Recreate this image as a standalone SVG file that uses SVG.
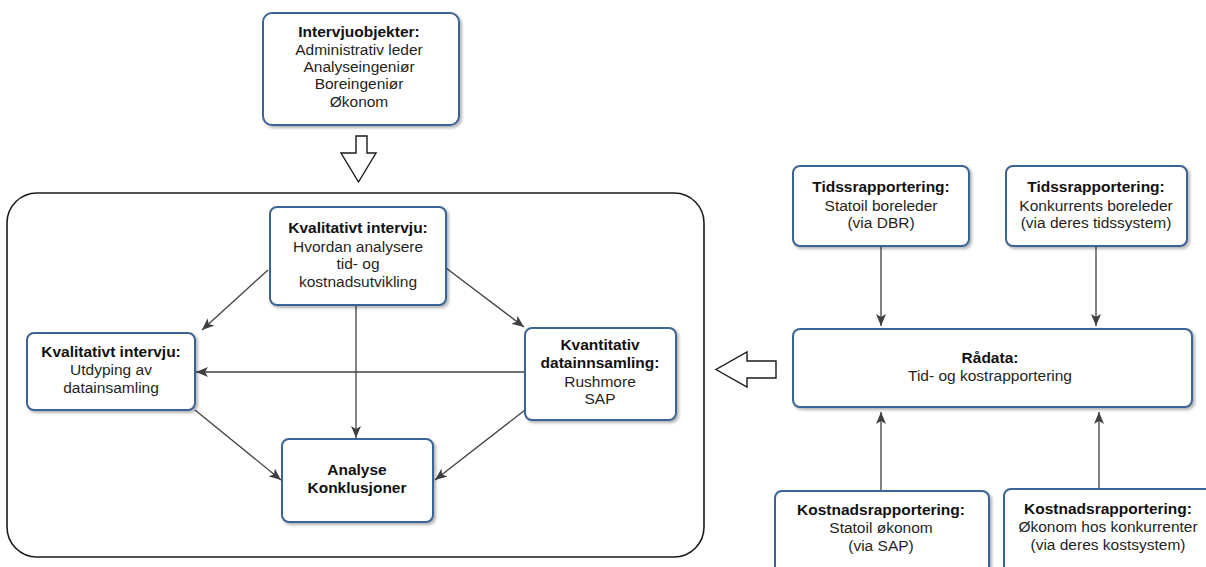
<svg xmlns="http://www.w3.org/2000/svg" width="1206" height="567" viewBox="0 0 1206 567">
  <style>
    .box { fill: #ffffff; stroke: #3b6494; stroke-width: 2; filter: url(#shadow); }
    .frame { fill: #ffffff; stroke: #1a1a1a; stroke-width: 1.6; }
    .hollow { fill: #ffffff; stroke: #1a1a1a; stroke-width: 1.4; stroke-linejoin: miter; }
    .edge { fill: none; stroke: #404040; stroke-width: 1.3; marker-end: url(#arrow); }
    text { font-family: "Liberation Sans", Arial, sans-serif; font-size: 15.5px; fill: #1f1f1f; text-anchor: middle; }
    .b { font-weight: bold; fill: #111111; }
  </style>
  <defs>
    <filter id="shadow" x="-10%" y="-10%" width="125%" height="130%">
      <feDropShadow dx="2" dy="2" stdDeviation="1.5" flood-color="#000000" flood-opacity="0.3"/>
    </filter>
    <marker id="arrow" viewBox="0 0 12 10" refX="12" refY="5" markerWidth="12" markerHeight="10" markerUnits="userSpaceOnUse" orient="auto">
      <path d="M0,0 L12,5 L0,10 L3,5 z" fill="#404040"/>
    </marker>
  </defs>

  <!-- outer frame of the analysis process -->
  <rect class="frame" x="7" y="193" width="697" height="364" rx="30" ry="30"/>

  <!-- hollow block arrows -->
  <path class="hollow" d="M356,136 L367,136 L367,153 L376,153 L358.5,182 L341,153 L356,153 Z"/>
  <path class="hollow" d="M776,361 L747,361 L747,352 L716,369.5 L747,387 L747,378 L776,378 Z"/>

  <g id="connectors">
    <line class="edge" x1="268" y1="270" x2="202" y2="330"/>
    <line class="edge" x1="446" y1="268" x2="524" y2="327"/>
    <line class="edge" x1="356" y1="306" x2="356" y2="438"/>
    <line class="edge" x1="525" y1="372" x2="196" y2="372"/>
    <line class="edge" x1="195" y1="410" x2="281" y2="480"/>
    <line class="edge" x1="525" y1="410" x2="435" y2="480"/>
    <line class="edge" x1="881" y1="246" x2="881" y2="326"/>
    <line class="edge" x1="1096" y1="246" x2="1096" y2="326"/>
    <line class="edge" x1="881" y1="490" x2="881" y2="412"/>
    <line class="edge" x1="1099" y1="488" x2="1099" y2="412"/>
  </g>

  <g id="intervjuobjekter">
    <rect class="box" x="263" y="13" width="196" height="112" rx="9"/>
    <text x="359" y="37" class="b">Intervjuobjekter:</text>
    <text x="359" y="55">Administrativ leder</text>
    <text x="359" y="72">Analyseingeniør</text>
    <text x="359" y="89">Boreingeniør</text>
    <text x="359" y="107">Økonom</text>
  </g>

  <g id="kvalitativt-hvordan">
    <rect class="box" x="270" y="207" width="176" height="98" rx="7"/>
    <text x="358" y="233" class="b">Kvalitativt intervju:</text>
    <text x="358" y="252">Hvordan analysere</text>
    <text x="358" y="269">tid- og</text>
    <text x="358" y="287">kostnadsutvikling</text>
  </g>

  <g id="kvalitativt-utdyping">
    <rect class="box" x="27" y="333" width="168" height="77" rx="7"/>
    <text x="111" y="357" class="b">Kvalitativt intervju:</text>
    <text x="111" y="375">Utdyping av</text>
    <text x="111" y="393">datainsamling</text>
  </g>

  <g id="kvantitativ">
    <rect class="box" x="525" y="328" width="151" height="92" rx="7"/>
    <text x="600" y="350" class="b">Kvantitativ</text>
    <text x="600" y="368" class="b">datainnsamling:</text>
    <text x="600" y="387">Rushmore</text>
    <text x="600" y="404">SAP</text>
  </g>

  <g id="analyse">
    <rect class="box" x="282" y="439" width="151" height="83" rx="7"/>
    <text x="357" y="475" class="b">Analyse</text>
    <text x="357" y="493" class="b">Konklusjoner</text>
  </g>

  <g id="tids-statoil">
    <rect class="box" x="793" y="166" width="176" height="80" rx="7"/>
    <text x="881" y="192" class="b">Tidssrapportering:</text>
    <text x="881" y="211">Statoil boreleder</text>
    <text x="881" y="228">(via DBR)</text>
  </g>

  <g id="tids-konkurrent">
    <rect class="box" x="1006" y="166" width="181" height="80" rx="7"/>
    <text x="1096" y="192" class="b">Tidssrapportering:</text>
    <text x="1096" y="211">Konkurrents boreleder</text>
    <text x="1096" y="228">(via deres tidssystem)</text>
  </g>

  <g id="raadata">
    <rect class="box" x="793" y="329" width="399" height="78" rx="7"/>
    <text x="990" y="363" class="b">Rådata:</text>
    <text x="990" y="381">Tid- og kostrapportering</text>
  </g>

  <g id="kost-statoil">
    <rect class="box" x="775" y="491" width="214" height="84" rx="7"/>
    <text x="881" y="515" class="b">Kostnadsrapportering:</text>
    <text x="881" y="533">Statoil økonom</text>
    <text x="881" y="551">(via SAP)</text>
  </g>

  <g id="kost-konkurrent">
    <rect class="box" x="1004" y="489" width="214" height="86" rx="7"/>
    <text x="1108" y="514" class="b">Kostnadsrapportering:</text>
    <text x="1108" y="532">Økonom hos konkurrenter</text>
    <text x="1108" y="550">(via deres kostsystem)</text>
  </g>
</svg>
